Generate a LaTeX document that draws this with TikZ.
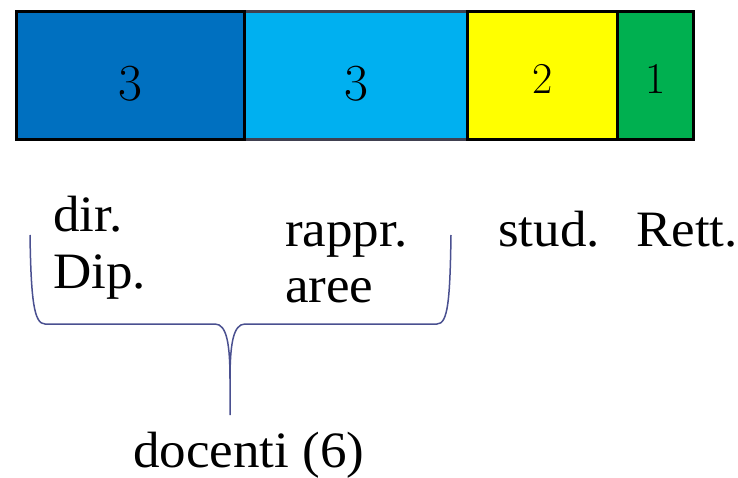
\documentclass[tikz,border=0pt]{standalone}
\usepackage{fontspec}
\newfontfamily\lblfont[FakeStretch=1.04]{Liberation Serif}
\definecolor{cA}{HTML}{0070C0}
\definecolor{cB}{HTML}{00B0F0}
\definecolor{cC}{HTML}{FFFF00}
\definecolor{cD}{HTML}{00B050}
\definecolor{braceblue}{HTML}{4A5090}
\definecolor{bordergray}{HTML}{404050}
\begin{document}
\begin{tikzpicture}[x=1pt,y=-1pt,
  seg/.style={draw=black, line width=3pt, minimum height=128pt, inner sep=0pt, anchor=north west, text depth=0pt},
  big/.style={font=\fontsize{52}{52}\selectfont, text height=50pt},
  small/.style={font=\fontsize{44}{44}\selectfont, text height=36pt},
  lbl/.style={font=\lblfont\fontsize{51}{56}\selectfont, anchor=base west, inner sep=0pt},
  brace/.style={draw=braceblue, line width=1.5pt}]
\useasboundingbox (0,0) rectangle (738,478);
\node[seg, big, fill=cB, draw=bordergray, minimum width=223pt] (b2) at (243,10) {3};
\node[seg, big, fill=cA, minimum width=228pt] (b1) at (15,10) {3};
\node[seg, small, fill=cC, minimum width=150pt] (b3) at (466,10) {2};
\node[seg, small, fill=cD, minimum width=76pt] (b4) at (616,10) {1};
\node[lbl] (l1a) at (53,232) {dir.};
\node[lbl] (l1b) at (53,288) {Dip.};
\node[lbl] (l2a) at (285,246) {rappr.};
\node[lbl] (l2b) at (285,302) {aree};
\node[lbl] (l3) at (498,247) {stud.};
\node[lbl] (l4) at (636,247) {Rett.};
\node[lbl] (doc) at (133,467) {docenti (6)};
\coordinate (bl) at (30,235);
\coordinate (br) at (451,235);
\coordinate (tip) at (230,415);
\path[brace] (bl) .. controls (31,300) and (34,324) .. (45,324) -- (215,324)
  .. controls (227,324) and (230,345) .. (230,380) -- (tip)
  (tip) -- (230,380) .. controls (230,345) and (233,324) .. (245,324) -- (437,324)
  .. controls (448,324) and (450,300) .. (br);
\end{tikzpicture}
\end{document}
